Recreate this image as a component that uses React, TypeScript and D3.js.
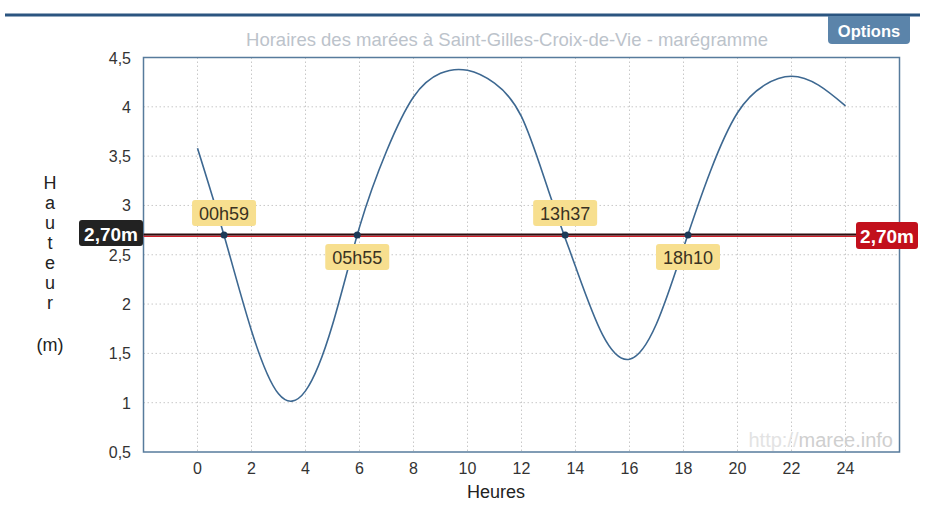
import * as d3 from 'd3';

// tide height (m), hourly
const hours = [0, 1, 2, 3, 4, 5, 6, 7, 8, 9, 10, 11, 12, 13, 14, 15, 16, 17, 18, 19, 20, 21, 22, 23, 24];
const heights = [3.58, 2.68, 1.73, 1.09, 1.12, 1.79, 2.78, 3.55, 4.1, 4.34, 4.37, 4.24, 3.9, 3.15, 2.38, 1.69, 1.44, 1.8, 2.57, 3.35, 3.94, 4.22, 4.31, 4.22, 4.01];

const threshold = 2.7;
const crossingHours = [59 / 60, 5 + 55 / 60, 13 + 37 / 60, 18 + 10 / 60];
const crossingLabels = ['00h59', '05h55', '13h37', '18h10'];
const crossingAbove = [true, false, true, false];

const yTicks = [0.5, 1, 1.5, 2, 2.5, 3, 3.5, 4, 4.5];
const xTicks = [0, 2, 4, 6, 8, 10, 12, 14, 16, 18, 20, 22, 24];
const yTitle = ['H', 'a', 'u', 't', 'e', 'u', 'r'];

export default function App() {
  const width = 940;
  const height = 511;
  const plot = { left: 143.5, right: 899.5, top: 57.5, bottom: 452 };
  const font = 'Helvetica, Arial, "Liberation Sans", sans-serif';

  const x = d3.scaleLinear().domain([-2, 26]).range([plot.left, plot.right]);
  const y = d3.scaleLinear().domain([0.5, 4.5]).range([plot.bottom, plot.top]);

  const line = d3
    .line<number>()
    .x((_, i) => x(hours[i]))
    .y((d) => y(d))
    .curve(d3.curveNatural);

  const fmt = (v: number) => String(v).replace('.', ',');
  const yT = y(threshold);

  return (
    <svg width={width} height={height} style={{ position: 'absolute', left: 0, top: 0 }} fontFamily={font}>
      <rect width={width} height={height} fill="#fff" />
      {/* header bar */}
      <line x1={5} x2={920} y1={15} y2={15} stroke="#2b5580" strokeWidth={3} />
      <path d="M828,16 H910 V40 a4,4 0 0 1 -4,4 H832 a4,4 0 0 1 -4,-4 Z" fill="#5b84aa" />
      <text x={869} y={37} textAnchor="middle" fontSize={16.5} fill="#fff" fontWeight="bold">
        Options
      </text>
      <text x={507} y={46} textAnchor="middle" fontSize={18.5} fill="#bcc3cb">
        Horaires des marées à Saint-Gilles-Croix-de-Vie - marégramme
      </text>

      {/* grid */}
      {yTicks.slice(1, -1).map((t) => (
        <line key={'gy' + t} x1={plot.left} x2={plot.right} y1={y(t)} y2={y(t)} stroke="#c8c8c8" strokeDasharray="1.5,2.5" />
      ))}
      {xTicks.map((t) => (
        <line key={'gx' + t} x1={x(t)} x2={x(t)} y1={plot.top} y2={plot.bottom} stroke="#c8c8c8" strokeDasharray="1.5,2.5" />
      ))}

      {/* watermark */}
      <text x={893} y={447} textAnchor="end" fontSize={20}>
        <tspan fill="#e3e3e3">http://</tspan>
        <tspan fill="#cfcfcf">maree.info</tspan>
      </text>

      {/* frame */}
      <rect
        x={plot.left}
        y={plot.top}
        width={plot.right - plot.left}
        height={plot.bottom - plot.top}
        fill="none"
        stroke="#577b9c"
        strokeWidth={1.5}
      />

      {/* axis labels */}
      {yTicks.map((t) => (
        <text key={'ty' + t} x={131} y={y(t) + 6} textAnchor="end" fontSize={16} fill="#333">
          {fmt(t)}
        </text>
      ))}
      {xTicks.map((t) => (
        <text key={'tx' + t} x={x(t)} y={474} textAnchor="middle" fontSize={16} fill="#333">
          {t}
        </text>
      ))}
      <text x={496} y={498} textAnchor="middle" fontSize={18} fill="#222">
        Heures
      </text>
      {yTitle.map((c, i) => (
        <text key={'yt' + i} x={50} y={189 + i * 20} textAnchor="middle" fontSize={18} fill="#222">
          {c}
        </text>
      ))}
      <text x={50} y={351} textAnchor="middle" fontSize={18} fill="#222">
        (m)
      </text>

      {/* threshold line */}
      <line x1={plot.left} x2={plot.right} y1={yT + 1.2} y2={yT + 1.2} stroke="#d0202a" strokeWidth={1.4} />
      <line x1={plot.left} x2={plot.right} y1={yT - 0.5} y2={yT - 0.5} stroke="#2a0e10" strokeWidth={2} />

      {/* tide curve */}
      <path d={line(heights) ?? ''} fill="none" stroke="#3d6891" strokeWidth={1.6} />

      {/* crossings */}
      {crossingHours.map((h, i) => {
        const cx = x(h);
        const by = crossingAbove[i] ? yT - 35 : yT + 9;
        return (
          <g key={'c' + i}>
            <circle cx={cx} cy={yT} r={3.5} fill="#1d3a58" />
            <rect x={cx - 32} y={by} width={64} height={26} rx={3} fill="#f7df8f" />
            <text x={cx} y={by + 19.5} textAnchor="middle" fontSize={18} fill="#3a3222">
              {crossingLabels[i]}
            </text>
          </g>
        );
      })}

      {/* threshold tags */}
      <rect x={79} y={yT - 15} width={64} height={26} rx={3} fill="#222" />
      <text x={111} y={yT + 5.5} textAnchor="middle" fontSize={19} fill="#fff" fontWeight="bold">
        2,70m
      </text>
      <rect x={856} y={yT - 13} width={62} height={27} rx={3} fill="#c2101c" />
      <text x={887} y={yT + 7.5} textAnchor="middle" fontSize={19} fill="#fff" fontWeight="bold">
        2,70m
      </text>
    </svg>
  );
}
